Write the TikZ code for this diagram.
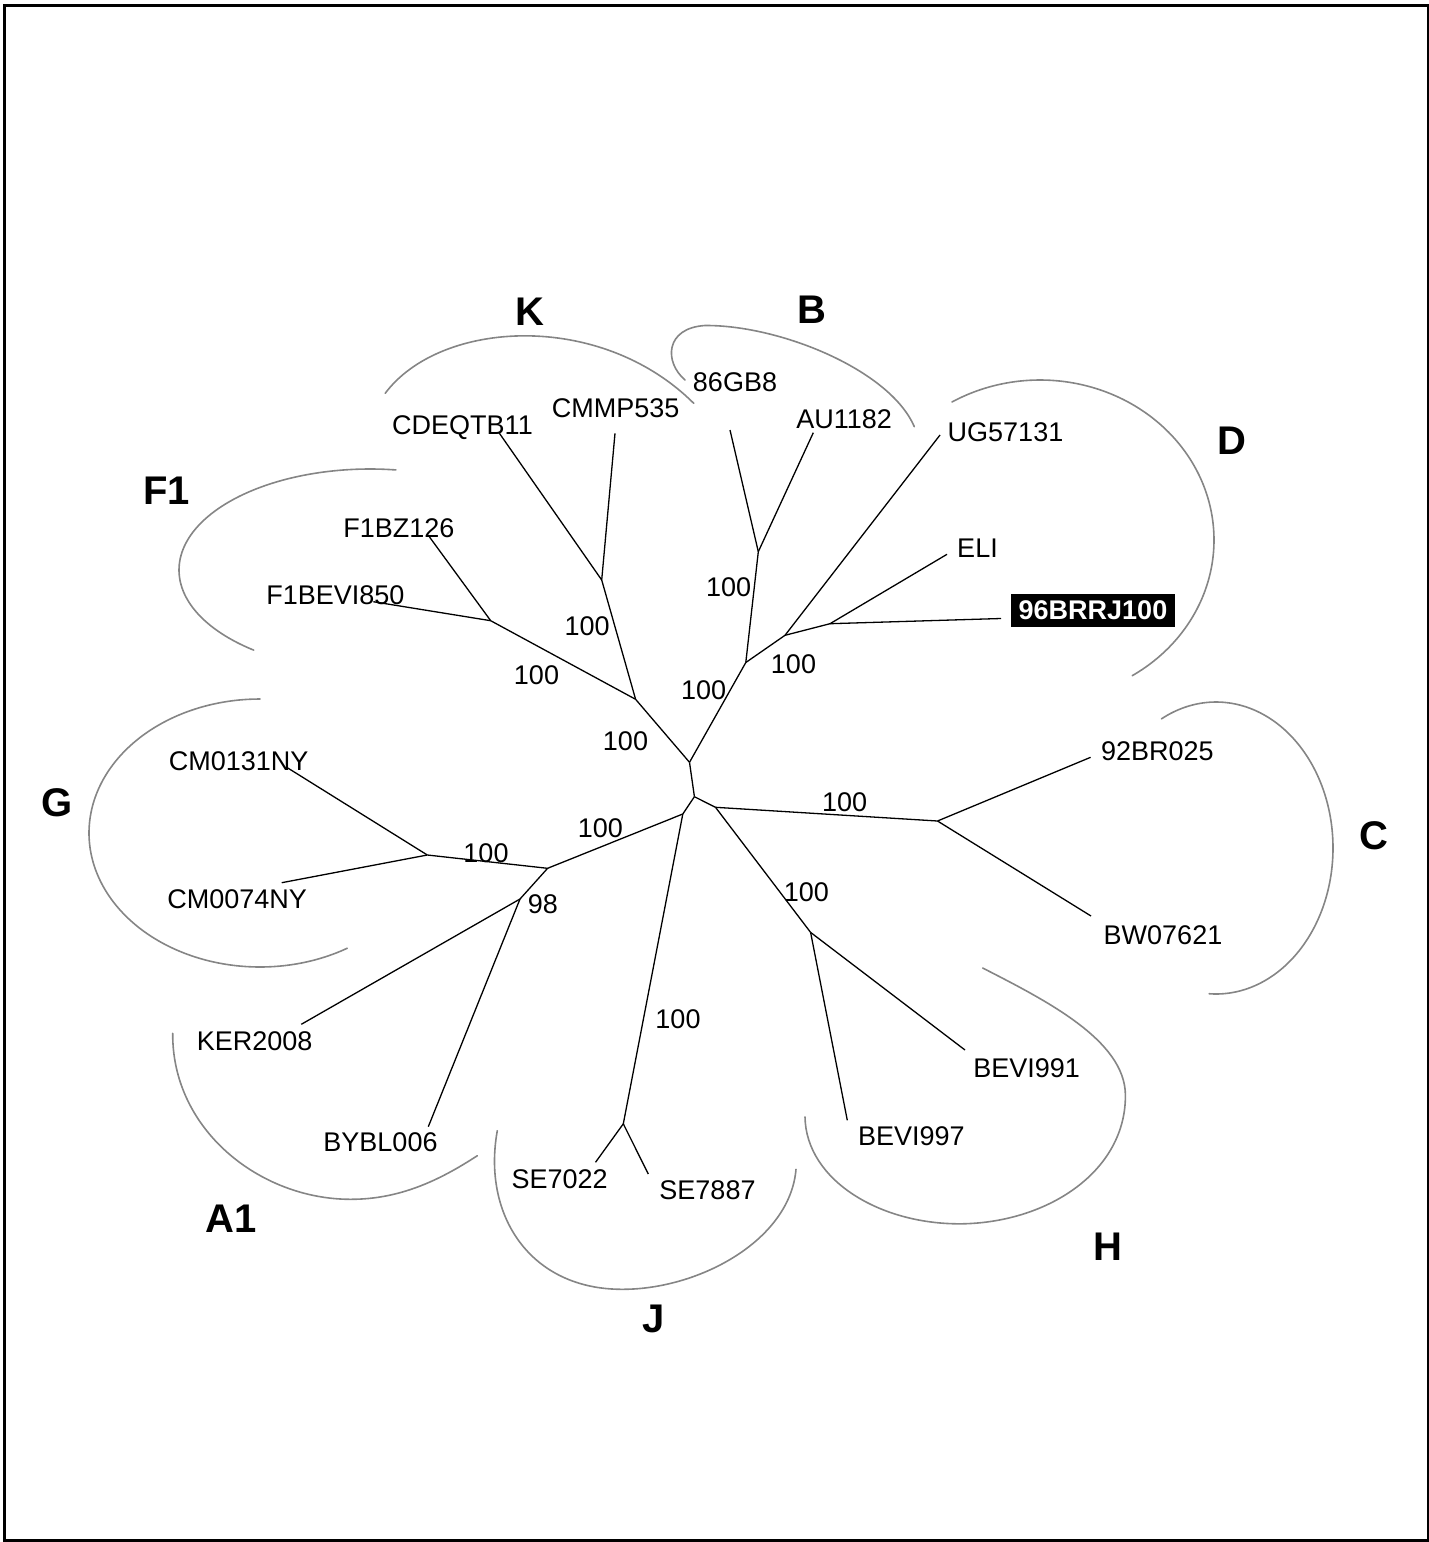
\documentclass[tikz,border=0pt]{standalone}
\usepackage{fontspec}
\setmainfont{Liberation Sans}
\begin{document}
\begin{tikzpicture}[x=0.5pt,y=-0.5pt,
  branch/.style={line width=0.65pt,draw=black},
  clade/.style={line width=0.8pt,draw=black!48,line cap=round},
  leaf/.style={anchor=base,inner sep=0pt,font=\fontsize{13.5}{16}\selectfont},
  boot/.style={anchor=base,inner sep=0pt,font=\fontsize{13.5}{16}\selectfont},
  group/.style={anchor=base,inner sep=0pt,font=\fontsize{20}{24}\selectfont\bfseries},
  marked/.style={fill=black,text=white,inner sep=0pt,minimum width=82pt,minimum height=16.5pt,
                 font=\fontsize{13.5}{16}\selectfont\bfseries}]
\useasboundingbox (0,0) rectangle (1429,1542);
% outer frame
\draw[line width=1.3pt] (4.7,5.3) rectangle (1427.8,1540.3);

% internal nodes of the tree
\coordinate (c1)  at (689.5,762.3);
\coordinate (c2)  at (694.4,796.7);
\coordinate (kf)  at (635.6,699.3);
\coordinate (bd)  at (745.8,662.5);
\coordinate (kn)  at (601.7,580);
\coordinate (fn)  at (490.7,620.7);
\coordinate (bn)  at (758.3,551.7);
\coordinate (dn)  at (785,635.3);
\coordinate (dd)  at (830,623.7);
\coordinate (ch)  at (715.5,807.3);
\coordinate (agj) at (682.8,814);
\coordinate (cn)  at (937.5,821);
\coordinate (hn)  at (810.6,932.4);
\coordinate (ag)  at (547.6,868.3);
\coordinate (jn)  at (623.3,1123.8);
\coordinate (gn)  at (427.3,855);
\coordinate (an)  at (520,899);

% leaf tips
\coordinate (tcdeq) at (499,432.7);
\coordinate (tcmmp) at (615,433.3);
\coordinate (tfbz)  at (429.3,536.7);
\coordinate (tfbev) at (373.3,601.7);
\coordinate (tgb)   at (730,430);
\coordinate (tau)   at (813.3,432.7);
\coordinate (tug)   at (940,435);
\coordinate (teli)  at (947,554.3);
\coordinate (tbrrj) at (1001,618.5);
\coordinate (tbr)   at (1090.6,757.3);
\coordinate (tbw)   at (1091,916);
\coordinate (tbvi)  at (965,1050);
\coordinate (tbvii) at (847.3,1120.3);
\coordinate (tcma)  at (286.7,767.3);
\coordinate (tcmb)  at (281.7,882.7);
\coordinate (tker)  at (301.3,1024.3);
\coordinate (tbybl) at (428.3,1126.7);
\coordinate (tsea)  at (595.5,1162.3);
\coordinate (tseb)  at (648.3,1174);

% branches
\draw[branch] (c1) -- (c2);
\draw[branch] (c1) -- (kf);
\draw[branch] (c1) -- (bd);
\draw[branch] (kf) -- (kn);
\draw[branch] (kf) -- (fn);
\draw[branch] (kn) -- (tcdeq);
\draw[branch] (kn) -- (tcmmp);
\draw[branch] (fn) -- (tfbz);
\draw[branch] (fn) -- (tfbev);
\draw[branch] (bd) -- (bn);
\draw[branch] (bd) -- (dn);
\draw[branch] (bn) -- (tgb);
\draw[branch] (bn) -- (tau);
\draw[branch] (dn) -- (tug);
\draw[branch] (dn) -- (dd);
\draw[branch] (dd) -- (teli);
\draw[branch] (dd) -- (tbrrj);
\draw[branch] (c2) -- (ch);
\draw[branch] (c2) -- (agj);
\draw[branch] (ch) -- (cn);
\draw[branch] (ch) -- (hn);
\draw[branch] (cn) -- (tbr);
\draw[branch] (cn) -- (tbw);
\draw[branch] (hn) -- (tbvi);
\draw[branch] (hn) -- (tbvii);
\draw[branch] (agj) -- (ag);
\draw[branch] (agj) -- (jn);
\draw[branch] (ag) -- (gn);
\draw[branch] (ag) -- (an);
\draw[branch] (gn) -- (tcma);
\draw[branch] (gn) -- (tcmb);
\draw[branch] (an) -- (tker);
\draw[branch] (an) -- (tbybl);
\draw[branch] (jn) -- (tsea);
\draw[branch] (jn) -- (tseb);

% leaf labels
\node[leaf] (lcdeq) at (462.5,434)   {CDEQTB11};
\node[leaf] (lcmmp) at (615.6,417.3) {CMMP535};
\node[leaf] (lgb)   at (735,391.7)   {86GB8};
\node[leaf] (lau)   at (844.2,428.3) {AU1182};
\node[leaf] (lug)   at (1005.5,441.2) {UG57131};
\node[leaf] (leli)  at (977.5,557)   {ELI};
\node[marked] (lbrrj) at (1093,610.5) {96BRRJ100};
\node[leaf] (lfbz)  at (398.8,537.3) {F1BZ126};
\node[leaf] (lfbev) at (335.3,604)   {F1BEVI850};
\node[leaf] (lcma)  at (238.7,770)   {CM0131NY};
\node[leaf] (lcmb)  at (237.2,908.7) {CM0074NY};
\node[leaf] (lker)  at (254.7,1050)  {KER2008};
\node[leaf] (lbybl) at (380.5,1151.7) {BYBL006};
\node[leaf] (lsea)  at (559.7,1188.3) {SE7022};
\node[leaf] (lseb)  at (707.5,1199.3) {SE7887};
\node[leaf] (lbvii) at (911.3,1145.5) {BEVI997};
\node[leaf] (lbvi)  at (1026.7,1077.2) {BEVI991};
\node[leaf] (lbr)   at (1157.3,760)  {92BR025};
\node[leaf] (lbw)   at (1163,944.5)  {BW07621};

% bootstrap values
\node[boot] (bk)   at (587.2,635.7) {100};
\node[boot] (bf)   at (536.5,684)   {100};
\node[boot] (bkf)  at (625.5,750)   {100};
\node[boot] (bb)   at (728.7,596)   {100};
\node[boot] (bbd)  at (703.7,699)   {100};
\node[boot] (bdd)  at (793.5,673.3) {100};
\node[boot] (bc)   at (844.7,811.7) {100};
\node[boot] (bag)  at (600.4,837.3) {100};
\node[boot] (bg)   at (486,862.7)   {100};
\node[boot] (ba)   at (542.8,913.3) {98};
\node[boot] (bh)   at (806.4,901.7) {100};
\node[boot] (bj)   at (678,1028.3)  {100};

% subtype letters
\node[group] (gk)  at (529.8,325)   {K};
\node[group] (gb)  at (812.3,323.3) {B};
\node[group] (gd)  at (1232.3,454.3) {D};
\node[group] (gf)  at (166.5,504)   {F1};
\node[group] (gg)  at (57.2,816)    {G};
\node[group] (gc)  at (1374,849)    {C};
\node[group] (gh)  at (1107.5,1260) {H};
\node[group] (gj)  at (653.3,1332.5) {J};
\node[group] (ga)  at (231.2,1232.3) {A1};

% grey arcs around each subtype
% K
\draw[clade] (385.2,393.3) .. controls (440,320) and (600,310) .. (693.7,403.3);
% B
\draw[clade] (685,380) .. controls (664,362) and (665,328) .. (705,325.5)
             .. controls (780,325) and (890,370) .. (914.3,426.7);
% D
\draw[clade] plot[domain=-120.4:58,samples=90,smooth] ({1040+174*cos(\x)},{540+160*sin(\x)});
% C
\draw[clade] plot[domain=-117.8:93.4,samples=90,smooth] ({1216+117*cos(\x)},{848+146*sin(\x)});
% H
\draw[clade] (982.7,968) .. controls (1045,1000) and (1125,1040) .. (1125.4,1095)
             .. controls (1126,1170) and (1050,1222) .. (962.7,1223.8)
             .. controls (880,1225) and (806,1180) .. (805,1116.9);
% J
\draw[clade] (497.3,1130.7) .. controls (482,1215) and (530,1290) .. (623.3,1289.3)
             .. controls (700,1289) and (790,1240) .. (796,1169.3);
% A1
\draw[clade] (172.7,1033.3) .. controls (172,1130) and (260,1199) .. (350,1199.3)
             .. controls (400,1199.5) and (440,1180) .. (477.3,1155.7);
% G
\draw[clade] plot[domain=59.3:270,samples=90,smooth] ({260+171*cos(\x)},{833+134*sin(\x)});
% F1
\draw[clade] plot[domain=127.5:277.8,samples=90,smooth] ({370+191*cos(\x)},{570+101*sin(\x)});
\end{tikzpicture}
\end{document}
